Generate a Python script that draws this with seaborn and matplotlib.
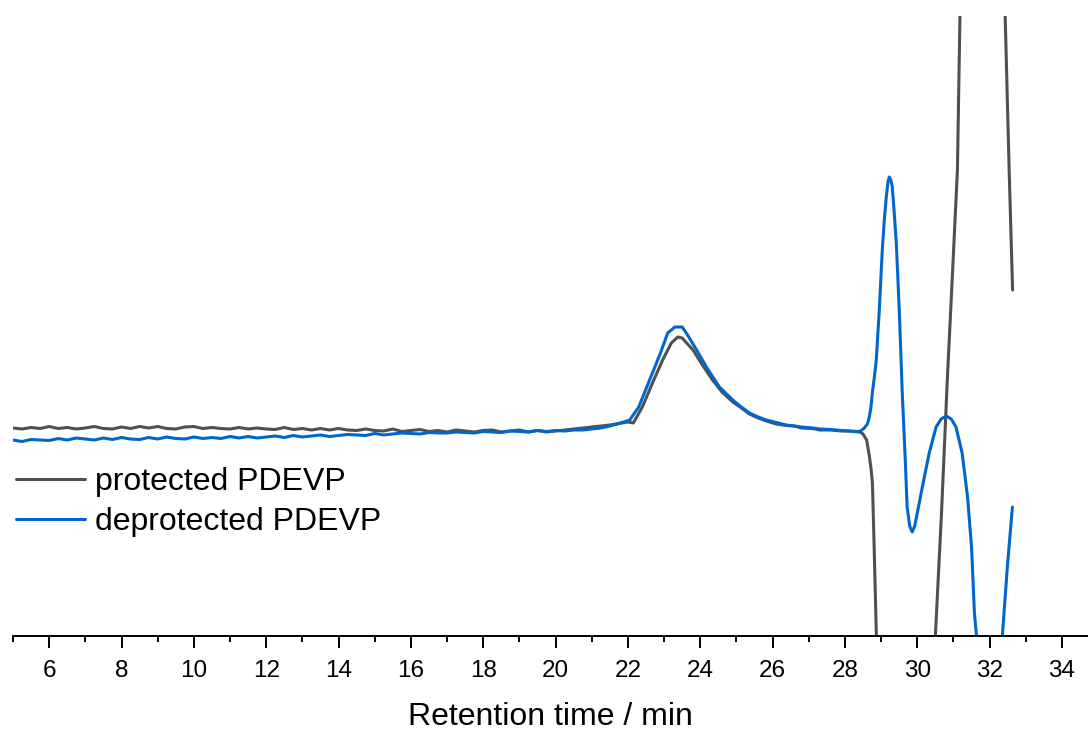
import numpy as np
import pandas as pd
import matplotlib
matplotlib.use("Agg")
import matplotlib.pyplot as plt
from matplotlib.lines import Line2D
import seaborn as sns

# ---------------- data (arbitrary detector units) ----------------
base_time = [5.0, 5.25, 5.5, 5.75, 6.0, 6.25, 6.5, 6.75, 7.0, 7.25, 7.5, 7.75,
             8.0, 8.25, 8.5, 8.75, 9.0, 9.25, 9.5, 9.75, 10.0, 10.25, 10.5, 10.75,
             11.0, 11.25, 11.5, 11.75, 12.0, 12.25, 12.5, 12.75, 13.0, 13.25, 13.5, 13.75,
             14.0, 14.25, 14.5, 14.75, 15.0, 15.25, 15.5, 15.75, 16.0, 16.25, 16.5, 16.75,
             17.0, 17.25, 17.5, 17.75, 18.0, 18.25, 18.5, 18.75, 19.0, 19.25, 19.5, 19.75,
             20.0, 20.25, 20.5, 20.75, 21.0, 21.25, 21.5, 21.75]

protected_base = [208, 207, 208.5, 207.5, 209.5, 207.5, 208.5, 207, 208, 209.5, 207.5, 207,
                  209, 207.5, 209.5, 208, 209.5, 207.5, 207, 209, 209.5, 207.5, 208.5, 207.5,
                  207, 208.5, 207, 208, 207, 206.5, 208.5, 206.5, 207.5, 206, 207.5, 206,
                  207.5, 206, 205.5, 207, 205.5, 205, 207, 204.5, 205.5, 206.5, 204.5, 205.5,
                  204, 206, 205, 204, 205.5, 206, 204, 205, 206, 204, 205.5, 204,
                  205, 206, 207, 208, 209, 210, 211, 212.5]

deprotected_base = [196, 194.5, 196.5, 196, 195.5, 197.5, 196, 198, 197, 196, 198, 196.5,
                    198.5, 197, 196.5, 198.5, 197, 199, 197.5, 197, 199, 197.5, 198.5, 197.5,
                    199.5, 198, 199.5, 198, 199, 200, 198.5, 200.5, 199, 200, 201, 199.5,
                    200.5, 201.5, 201, 200.5, 202.5, 201, 202, 203, 202.5, 202, 203.5, 203,
                    203, 204, 203.5, 203, 204.5, 204, 203.5, 205, 204.5, 204, 205.5, 204.5,
                    205.5, 205, 206, 206, 207, 208, 210, 212.5]

protected_late_time = [22.0, 22.15, 22.4, 22.68, 22.96, 23.2, 23.38, 23.5, 23.8, 24.06,
                       24.34, 24.6, 24.9, 25.1, 25.36, 25.6, 25.83, 26.1, 26.38, 26.6,
                       26.8, 27.1, 27.3, 27.6, 27.9, 28.1, 28.4, 28.5, 28.6, 28.67,
                       28.72, 28.76, 28.81, 28.87, 29.0, 30.0, 30.3, 30.5, 30.67, 30.83,
                       30.97, 31.11, 31.18, 31.25, 31.6, 32.1, 32.35, 32.43, 32.54, 32.635]
protected_late = [214, 213, 229, 253, 276, 293, 299, 298, 286, 271,
                  256, 244, 234, 229, 222, 218, 215, 212, 210.5, 210,
                  208, 207.5, 206, 206, 205, 205, 204.5, 202, 196, 181,
                  168, 153, 86, -1, -300, -400, -180, 0, 123, 256,
                  360, 466, 620, 900, 1000, 1000, 800, 620, 466, 346]

deprotected_late_time = [22.05, 22.3, 22.6, 22.9, 23.1, 23.3, 23.5, 23.65, 23.9, 24.17,
                         24.53, 24.9, 25.1, 25.36, 25.6, 25.83, 26.1, 26.38, 26.6, 26.8,
                         27.1, 27.3, 27.6, 27.9, 28.1, 28.4, 28.536, 28.62, 28.674, 28.72,
                         28.757, 28.81, 28.867, 28.95, 29.033, 29.09, 29.143, 29.19, 29.226, 29.27,
                         29.309, 29.36, 29.42, 29.502, 29.585, 29.668, 29.72, 29.79, 29.86, 29.93,
                         30.0, 30.14, 30.33, 30.52, 30.66, 30.8, 30.94, 31.07, 31.24, 31.39,
                         31.5, 31.58, 31.64, 31.8, 32.1, 32.35, 32.49, 32.63]
deprotected_late = [216, 229, 256, 283, 303, 309, 309, 301, 286, 269,
                    249, 236, 230, 223, 219, 216, 213.5, 211, 210, 209,
                    208, 207, 206.5, 205.5, 205, 204, 208, 212, 219, 229,
                    243, 258, 276, 326, 386, 417, 439, 454, 459, 456,
                    449, 425, 393, 326, 243, 176, 129, 110, 104, 110,
                    123, 149, 183, 209, 217, 220, 217, 209, 183, 139,
                    89, 23, -1, -200, -200, -1, 69, 129]

labels = ["protected PDEVP", "deprotected PDEVP"]
tick_values = [6, 8, 10, 12, 14, 16, 18, 20, 22, 24, 26, 28, 30, 32, 34]

# ---------------- build tidy frame ----------------
df = pd.concat([
    pd.DataFrame({"time": base_time + protected_late_time,
                  "signal": protected_base + protected_late,
                  "sample": labels[0]}),
    pd.DataFrame({"time": base_time + deprotected_late_time,
                  "signal": deprotected_base + deprotected_late,
                  "sample": labels[1]}),
], ignore_index=True)

# ---------------- plotting ----------------
sns.set_style("ticks")
plt.rcParams["font.family"] = ["Liberation Sans", "DejaVu Sans"]
plt.rcParams["text.color"] = "black"
plt.rcParams["axes.labelcolor"] = "black"
plt.rcParams["xtick.color"] = "black"

fig = plt.figure(figsize=(10.88, 7.31), dpi=100)
ax = fig.add_axes([13 / 1088, (731 - 636) / 731, 1 - 13 / 1088, 620 / 731])

palette = {labels[0]: "#505050", labels[1]: "#0066CC"}
sns.lineplot(data=df, x="time", y="signal", hue="sample", palette=palette,
             estimator=None, sort=False, linewidth=2.2, ax=ax, legend=False)

ax.set_xlim(5.0, 34.72)
ax.set_ylim(0, 620)

for s in ["left", "right", "top"]:
    ax.spines[s].set_visible(False)
ax.spines["bottom"].set_linewidth(1.4)
ax.spines["bottom"].set_color("black")

ax.set_yticks([])
ax.set_ylabel("")
ax.set_xticks(tick_values)
ax.set_xticklabels([str(v) for v in tick_values])
ax.set_xticks([v + 1 for v in tick_values[:-1]] + [5], minor=True)
ax.tick_params(axis="x", which="major", direction="out", length=8.5, width=1.4,
               labelsize=17.5, pad=8.5, color="black", labelcolor="black")
ax.tick_params(axis="x", which="minor", direction="out", length=4.5, width=1.4,
               color="black")
ax.set_xlabel("Retention time / min", fontsize=23, labelpad=15, color="black")

handles = [Line2D([], [], color=palette[l], linewidth=2.2) for l in labels]
ax.legend(handles, labels, loc="center left", bbox_to_anchor=(0.0, 0.216),
          frameon=False, fontsize=23, handlelength=2.15, handletextpad=0.33,
          labelspacing=0.3, borderaxespad=0, borderpad=0.1)

fig.savefig("out.png", dpi=100)
